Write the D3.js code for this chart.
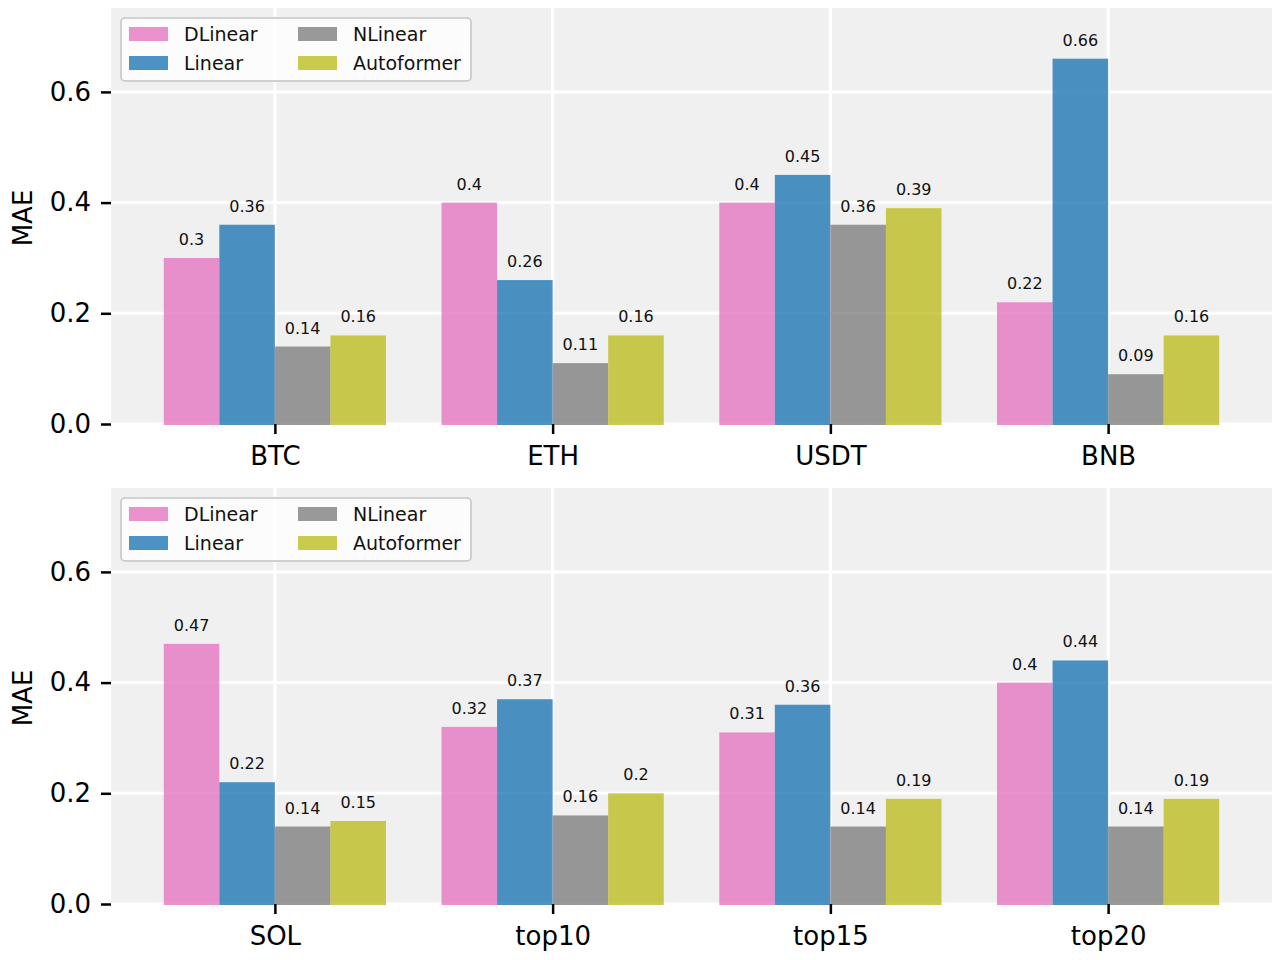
<!DOCTYPE html>
<html>
<head>
<meta charset="utf-8">
<script src="https://cdn.jsdelivr.net/npm/d3@7"></script>
<style>
  body { margin: 0; background: #ffffff; }
  text { font-family: "DejaVu Sans", sans-serif; }
</style>
</head>
<body>
<svg id="chart" width="1280" height="960"></svg>
<script>
// Models and colours
var models = ["DLinear", "Linear", "NLinear", "Autoformer"];
var colors = ["#e377c2", "#1f77b4", "#7f7f7f", "#bcbd22"];

// Top panel
var topCats = ["BTC", "ETH", "USDT", "BNB"];
var topDLinear = [0.3, 0.4, 0.4, 0.22];
var topLinear = [0.36, 0.26, 0.45, 0.66];
var topNLinear = [0.14, 0.11, 0.36, 0.09];
var topAutoformer = [0.16, 0.16, 0.39, 0.16];

// Bottom panel
var botCats = ["SOL", "top10", "top15", "top20"];
var botDLinear = [0.47, 0.32, 0.31, 0.4];
var botLinear = [0.22, 0.37, 0.36, 0.44];
var botNLinear = [0.14, 0.16, 0.14, 0.14];
var botAutoformer = [0.15, 0.2, 0.19, 0.19];

var yTicks = [0.0, 0.2, 0.4, 0.6];

var svg = d3.select("#chart");

var left = 111, right = 1272;
var barW = 0.2;

function drawPanel(top, bottom, cats, series) {
  var g = svg.append("g");

  // bars span -0.4..3.4, matplotlib adds 5% margins
  var x = d3.scaleLinear().domain([-0.59, 3.59]).range([left, right]);
  var y = d3.scaleLinear().domain([0, 0.7516]).range([bottom, top]);

  g.append("rect")
    .attr("x", left).attr("y", top)
    .attr("width", right - left).attr("height", bottom - top)
    .attr("fill", "#f0f0f0");

  // grid
  g.selectAll(".hgrid").data(yTicks).enter().append("line")
    .attr("x1", left).attr("x2", right)
    .attr("y1", function(d) { return y(d); })
    .attr("y2", function(d) { return y(d); })
    .attr("stroke", "#ffffff").attr("stroke-width", 3);
  g.selectAll(".vgrid").data(cats).enter().append("line")
    .attr("x1", function(d, i) { return x(i); })
    .attr("x2", function(d, i) { return x(i); })
    .attr("y1", top).attr("y2", bottom)
    .attr("stroke", "#ffffff").attr("stroke-width", 3);

  // bars + value labels
  series.forEach(function(vals, s) {
    var off = (s - 1.5) * barW;
    g.selectAll(".bar" + s).data(vals).enter().append("rect")
      .attr("x", function(d, i) { return x(i + off - barW / 2); })
      .attr("width", x(barW) - x(0))
      .attr("y", function(d) { return y(d); })
      .attr("height", function(d) { return y(0) - y(d) + 1; })
      .attr("fill", colors[s])
      .attr("fill-opacity", 0.8);
    g.selectAll(".lab" + s).data(vals).enter().append("text")
      .attr("x", function(d, i) { return x(i + off); })
      .attr("y", function(d) { return y(d) - 13; })
      .attr("text-anchor", "middle")
      .attr("font-size", 16)
      .attr("fill", "#111111")
      .text(function(d) { return String(d); });
  });

  // y axis
  var yAxis = d3.axisLeft(y).tickValues(yTicks).tickFormat(d3.format(".1f"))
    .tickSize(10).tickPadding(10);
  var ya = g.append("g").attr("transform", "translate(" + left + ",0)").call(yAxis);
  ya.select(".domain").remove();
  ya.selectAll(".tick line").attr("stroke", "#000").attr("stroke-width", 2.5);
  ya.selectAll(".tick text").attr("font-size", 26).attr("fill", "#000")
    .attr("font-family", "DejaVu Sans, sans-serif");

  // x axis
  var xAxis = d3.axisBottom(x).tickValues([0, 1, 2, 3])
    .tickFormat(function(d) { return cats[d]; })
    .tickSize(10).tickPadding(13);
  var xa = g.append("g").attr("transform", "translate(0," + bottom + ")").call(xAxis);
  xa.select(".domain").remove();
  xa.selectAll(".tick line").attr("stroke", "#000").attr("stroke-width", 2.5);
  xa.selectAll(".tick text").attr("font-size", 26).attr("fill", "#000")
    .attr("font-family", "DejaVu Sans, sans-serif");

  // y label
  g.append("text")
    .attr("transform", "translate(32," + (top + 210) + ") rotate(-90)")
    .attr("text-anchor", "middle")
    .attr("font-size", 26)
    .text("MAE");

  // legend
  var lg = g.append("g").attr("transform", "translate(121," + (top + 10) + ")");
  lg.append("rect")
    .attr("x", 0).attr("y", 0).attr("width", 350).attr("height", 63)
    .attr("rx", 4).attr("ry", 4)
    .attr("fill", "#ffffff").attr("fill-opacity", 0.8)
    .attr("stroke", "#d0d0d0").attr("stroke-width", 2);
  models.forEach(function(m, i) {
    var col = Math.floor(i / 2), row = i % 2;
    var px = 8 + col * 169, py = 9 + row * 29;
    lg.append("rect")
      .attr("x", px).attr("y", py).attr("width", 39).attr("height", 14)
      .attr("fill", colors[i]).attr("fill-opacity", 0.8);
    lg.append("text")
      .attr("x", px + 55).attr("y", py + 14)
      .attr("font-size", 19)
      .attr("fill", "#111111")
      .text(m);
  });
}

drawPanel(8, 424, topCats, [topDLinear, topLinear, topNLinear, topAutoformer]);
drawPanel(488, 904, botCats, [botDLinear, botLinear, botNLinear, botAutoformer]);
</script>
</body>
</html>
